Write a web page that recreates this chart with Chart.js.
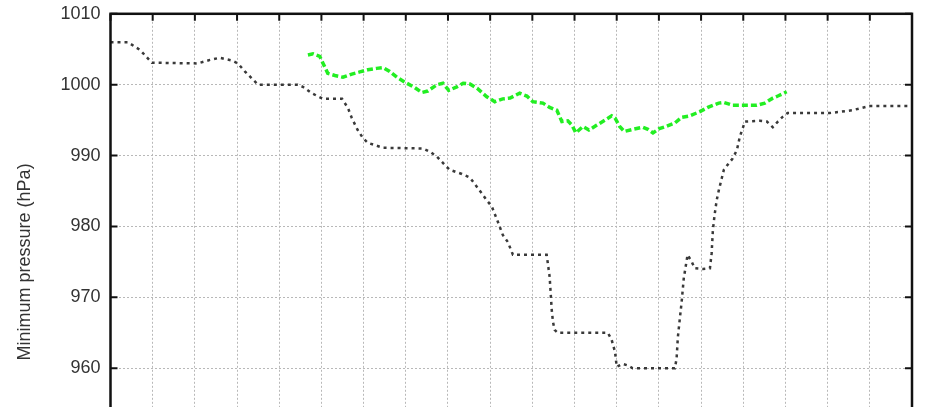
<!DOCTYPE html>
<html>
<head>
<meta charset="utf-8">
<title>Minimum pressure</title>
<script src="https://cdn.jsdelivr.net/npm/chart.js@4/dist/chart.umd.min.js"></script>
<style>
  body { margin: 0; background: #fff; overflow: hidden; }
  #wrap { width: 931px; height: 407px; overflow: hidden; }
</style>
</head>
<body>
<div id="wrap">
  <canvas id="myChart" width="931" height="560"></canvas>
</div>
<script>
// time axis in grid units (one unit per vertical grid line)
var obsX = [0, 0.41, 0.70, 0.98, 2.07, 2.36, 2.59, 2.88, 3.02, 3.19, 3.38, 3.50, 4.44, 4.56, 4.77,
  5.04, 5.49, 5.63, 5.72, 5.86, 5.98, 6.10, 6.46, 7.41, 7.57, 7.74, 7.97, 8.04, 8.33, 8.52,
  8.71, 8.92, 9.04, 9.18, 9.30, 9.42, 9.54, 10.34, 10.41, 10.46, 10.49, 10.53, 10.60, 11.79,
  11.88, 11.96, 12.00, 12.14, 12.26, 12.38, 13.38, 13.42, 13.45, 13.50, 13.54, 13.59, 13.68,
  13.78, 13.85, 14.04, 14.21, 14.25, 14.28, 14.32, 14.37, 14.42, 14.49, 14.54, 14.63, 14.75,
  14.85, 14.92, 14.99, 15.04, 15.39, 15.56, 15.70, 15.82, 15.94, 16.05, 17.05, 17.59, 18.00, 19.00];
var obsP = [1006, 1006, 1004.9, 1003.1, 1003, 1003.5, 1003.8, 1003.4, 1003, 1001.85, 1000.7, 1000, 1000, 999.7, 998.8,
  998, 998, 996.7, 995.3, 993.6, 992.5, 991.8, 991.1, 991, 990.55, 989.85, 988.4, 988, 987.4, 986.9,
  985.4, 983.7, 982.8, 980.7, 978.8, 977.8, 976, 976, 972.9, 968.2, 966.5, 965.4, 965, 965,
  964, 962.3, 960.2, 960.6, 960.4, 960, 960, 961.4, 964.4, 967.2, 969.4, 972.7, 976,
  975, 974.1, 974, 974.1, 976.2, 979.5, 981.6, 983.7, 985.1, 986.8, 988, 988.7, 989.6,
  990.8, 992.7, 993.9, 994.8, 994.9, 994.8, 994, 994.8, 995.5, 996, 996, 996.4, 997, 997];

var simX = [4.68, 4.80, 4.96, 5.04, 5.15, 5.32, 5.51, 5.72, 5.91, 6.10, 6.31, 6.46, 6.62, 6.79, 6.98,
  7.21, 7.38, 7.52, 7.74, 7.88, 8.02, 8.21, 8.36, 8.52, 8.69, 8.92, 9.11, 9.30, 9.47, 9.70,
  9.87, 10.01, 10.25, 10.41, 10.58, 10.70, 10.84, 10.94, 11.03, 11.20, 11.34, 11.53, 11.72,
  11.88, 11.96, 12.07, 12.18, 12.38, 12.62, 12.74, 12.86, 13.01, 13.17, 13.38, 13.54, 13.73,
  13.97, 14.16, 14.42, 14.54, 14.75, 14.99, 15.32, 15.51, 15.70, 15.82, 16.03];
var simP = [1004.2, 1004.35, 1004.0, 1003.0, 1001.6, 1001.3, 1001.05, 1001.5, 1001.8, 1002.1, 1002.3, 1002.4, 1001.85, 1001.05, 1000.35,
  999.6, 998.9, 999.1, 1000.0, 1000.2, 999.2, 999.7, 1000.2, 1000.1, 999.5, 998.3, 997.6, 998.0, 998.1, 998.8,
  998.4, 997.6, 997.4, 996.8, 996.4, 994.8, 994.9, 994.3, 993.2, 994.1, 993.6, 994.3, 995.0,
  995.6, 995.3, 994.1, 993.4, 993.7, 994.0, 993.7, 993.2, 993.8, 994.1, 994.6, 995.4, 995.6,
  996.2, 996.8, 997.4, 997.5, 997.1, 997.1, 997.1, 997.4, 998.1, 998.4, 999.0];

var yTicks = [940, 950, 960, 970, 980, 990, 1000, 1010];
var yTitle = 'Minimum pressure (hPa)';

function toPoints(xs, ys) {
  var pts = [];
  for (var i = 0; i < xs.length; i++) {
    pts.push({x: xs[i], y: ys[i]});
  }
  return pts;
}

// gnuplot style frame with ticks pointing inwards
var frameTicks = {
  id: 'frameTicks',
  afterDatasetsDraw: function (chart) {
    var ctx = chart.ctx;
    var a = chart.chartArea;
    var xs = chart.scales.x, ys = chart.scales.y;
    ctx.save();
    ctx.strokeStyle = '#111';
    ctx.lineWidth = 2;
    ctx.beginPath();
    ys.ticks.forEach(function (t) {
      var y = ys.getPixelForValue(t.value);
      ctx.moveTo(a.left, y); ctx.lineTo(a.left + 7, y);
      ctx.moveTo(a.right, y); ctx.lineTo(a.right - 7, y);
    });
    xs.ticks.forEach(function (t) {
      var x = xs.getPixelForValue(t.value);
      ctx.moveTo(x, a.top); ctx.lineTo(x, a.top + 7);
      ctx.moveTo(x, a.bottom); ctx.lineTo(x, a.bottom - 7);
    });
    ctx.stroke();
    ctx.lineWidth = 2.5;
    ctx.strokeRect(a.left, a.top, a.right - a.left, a.bottom - a.top);
    ctx.restore();
  }
};

var grafico = new Chart(document.getElementById('myChart').getContext('2d'), {
  type: 'line',
  data: {
    datasets: [{
      label: 'Observed',
      data: toPoints(obsX, obsP),
      borderColor: 'rgba(35,35,35,0.9)',
      borderWidth: 2.5,
      borderDash: [3, 4],
      pointRadius: 0,
      tension: 0
    }, {
      label: 'Simulated',
      data: toPoints(simX, simP),
      borderColor: '#22ee22',
      borderWidth: 3.5,
      borderDash: [6, 3],
      pointRadius: 0,
      tension: 0
    }]
  },
  options: {
    responsive: false,
    animation: false,
    layout: { padding: { top: 0, right: 19, left: 0, bottom: 0 } },
    plugins: { legend: { display: false }, tooltip: { enabled: false } },
    scales: {
      x: {
        type: 'linear',
        min: 0,
        max: 19,
        ticks: { display: false, stepSize: 1 },
        grid: { color: '#b8b8b8', lineWidth: 1, drawTicks: false },
        border: { display: false, dash: [2, 2] },
        afterFit: function (scale) { scale.height = 50; }
      },
      y: {
        min: 940,
        max: 1010,
        afterBuildTicks: function (scale) {
          scale.ticks = yTicks.map(function (v) { return {value: v}; });
        },
        ticks: {
          padding: 3,
          color: '#333',
          font: { family: 'Liberation Sans, Arial, sans-serif', size: 18 },
          callback: function (v) { return String(v); }
        },
        grid: { color: '#b8b8b8', lineWidth: 1, drawTicks: true, tickLength: 7, tickColor: 'rgba(0,0,0,0)' },
        border: { display: false, dash: [2, 2] },
        title: {
          display: true,
          text: yTitle,
          color: '#333',
          padding: { top: 14, bottom: 0 },
          font: { family: 'Liberation Sans, Arial, sans-serif', size: 18 }
        },
        afterFit: function (scale) { scale.width = 110.5; }
      }
    }
  },
  plugins: [frameTicks]
});
</script>
</body>
</html>
